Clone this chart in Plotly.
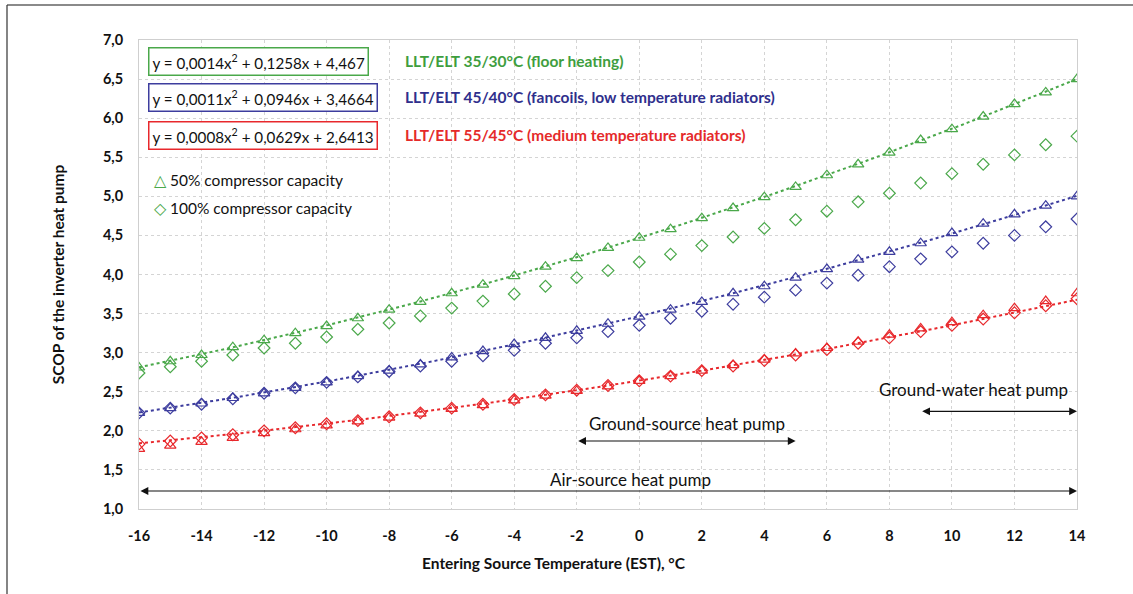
import numpy as np
import plotly.graph_objects as go

# ---------------- data ----------------
est = list(range(-16, 15))

green_50 = [2.81, 2.89, 2.97, 3.07, 3.16, 3.25, 3.34, 3.44, 3.55, 3.65, 3.76, 3.87, 3.98, 4.10, 4.21, 4.34,
            4.47, 4.58, 4.72, 4.85, 4.99, 5.12, 5.27, 5.41, 5.56, 5.72, 5.86, 6.02, 6.18, 6.33, 6.50]
green_100 = [2.74, 2.82, 2.89, 2.97, 3.06, 3.12, 3.20, 3.30, 3.38, 3.47, 3.57, 3.66, 3.75, 3.85, 3.96, 4.05,
             4.16, 4.26, 4.37, 4.48, 4.59, 4.70, 4.81, 4.93, 5.04, 5.17, 5.29, 5.41, 5.53, 5.66, 5.77]
blue_50 = [2.23, 2.29, 2.35, 2.42, 2.48, 2.55, 2.62, 2.70, 2.77, 2.85, 2.94, 3.02, 3.11, 3.19, 3.28, 3.37,
           3.46, 3.55, 3.65, 3.76, 3.85, 3.96, 4.07, 4.19, 4.29, 4.40, 4.53, 4.65, 4.77, 4.88, 5.00]
blue_100 = [2.23, 2.29, 2.34, 2.41, 2.48, 2.55, 2.62, 2.69, 2.76, 2.83, 2.89, 2.96, 3.03, 3.12, 3.19, 3.27,
            3.35, 3.44, 3.53, 3.62, 3.71, 3.80, 3.89, 3.99, 4.10, 4.20, 4.29, 4.40, 4.50, 4.61, 4.71]
red_50 = [1.77, 1.81, 1.86, 1.91, 1.97, 2.02, 2.07, 2.12, 2.17, 2.22, 2.28, 2.33, 2.39, 2.45, 2.51, 2.57,
          2.64, 2.70, 2.77, 2.84, 2.91, 2.99, 3.06, 3.14, 3.23, 3.31, 3.39, 3.48, 3.57, 3.66, 3.76]
red_100 = [1.83, 1.87, 1.91, 1.95, 2.00, 2.04, 2.09, 2.13, 2.18, 2.23, 2.29, 2.34, 2.40, 2.46, 2.52, 2.58,
           2.64, 2.70, 2.77, 2.83, 2.90, 2.97, 3.04, 3.12, 3.19, 3.27, 3.35, 3.43, 3.51, 3.60, 3.69]

# trendline equations as printed on the chart (a, b, c of a*x^2 + b*x + c)
green_coef = ["0,0014", "0,1258", "4,467"]
blue_coef = ["0,0011", "0,0946", "3,4664"]
red_coef = ["0,0008", "0,0629", "2,6413"]

series_labels = ["LLT/ELT 35/30°C (floor heating)",
                 "LLT/ELT 45/40°C (fancoils, low temperature radiators)",
                 "LLT/ELT 55/45°C (medium temperature radiators)"]

ranges = [("Ground-water heat pump", 9, 14), ("Ground-source heat pump", -2, 5), ("Air-source heat pump", -16, 14)]

x_ticks = list(range(-16, 15, 2))
x_tick_labels = [str(v) for v in x_ticks]

# ---------------- styling ----------------
GREEN = "#4aa84a"
BLUE = "#3d3d9e"
RED = "#e8282c"
GREEN_T = "#3e9e3e"
BLUE_T = "#2f2f8c"
RED_T = "#e52a2a"
FONT = "Lato"

fig = go.Figure()

xs = np.linspace(-16, 14, 121)
groups = [
    (green_50, green_100, green_coef, GREEN),
    (blue_50, blue_100, blue_coef, BLUE),
    (red_50, red_100, red_coef, RED),
]
for s50, s100, coef, col in groups:
    a, b, c = [float(v.replace(",", ".")) for v in coef]
    fig.add_trace(go.Scatter(x=xs, y=a * xs ** 2 + b * xs + c, mode="lines",
                             line=dict(color=col, width=2, dash="dot"), hoverinfo="skip",
                             showlegend=False))
    fig.add_trace(go.Scatter(x=est, y=s100, mode="markers",
                             marker=dict(symbol="diamond-open", size=9, color=col, line=dict(width=1.2)),
                             showlegend=False))
    fig.add_trace(go.Scatter(x=est, y=s50, mode="markers",
                             marker=dict(symbol="triangle-up-open", size=10, color=col, line=dict(width=1.2)),
                             showlegend=False))

annotations = []
# equation boxes
eq_y = [6.73, 6.265, 5.78]
for coef, col, txtcol, yy, lab in zip([green_coef, blue_coef, red_coef], [GREEN, BLUE, RED],
                                      [GREEN_T, BLUE_T, RED_T], eq_y, series_labels):
    annotations.append(dict(
        x=-15.72, y=yy, xref="x", yref="y", xanchor="left", yanchor="middle", showarrow=False,
        text=f"y = {coef[0]}x<sup>2</sup> + {coef[1]}x + {coef[2]}",
        font=dict(family=FONT, size=15.2, color="#111"),
        bordercolor=col, borderwidth=1.5, borderpad=3, bgcolor="white"))
    annotations.append(dict(
        x=-7.55, y=yy, xref="x", yref="y", xanchor="left", yanchor="middle", showarrow=False,
        text=f"<b>{lab}</b>", font=dict(family=FONT, size=15.5, color=txtcol)))

annotations.append(dict(x=-15.6, y=5.21, xref="x", yref="y", xanchor="left", yanchor="middle",
                        showarrow=False,
                        text=f"<span style='color:{GREEN}'>△</span> 50% compressor capacity",
                        font=dict(family=FONT, size=15.5, color="#111")))
annotations.append(dict(x=-15.6, y=4.85, xref="x", yref="y", xanchor="left", yanchor="middle",
                        showarrow=False,
                        text=f"<span style='color:{GREEN}'>◇</span> 100% compressor capacity",
                        font=dict(family=FONT, size=15.5, color="#111")))

# heat pump ranges (double-headed arrows + labels)
arrow_y = [2.25, 1.87, 1.23]
label_y = [2.53, 2.10, 1.38]
label_x = [10.7, 1.52, -0.27]
for (lab, x0, x1), ay, ly, lx in zip(ranges, arrow_y, label_y, label_x):
    annotations.append(dict(x=x1, y=ay, ax=x0, ay=ay, xref="x", yref="y", axref="x", ayref="y",
                            text="", showarrow=True, arrowhead=2, arrowsize=1.3, arrowwidth=1.2,
                            arrowside="end+start", arrowcolor="#111"))
    annotations.append(dict(x=lx, y=ly, xref="x", yref="y", xanchor="center", yanchor="middle",
                            showarrow=False, text=lab, font=dict(family=FONT, size=17, color="#111")))

# x-axis title (left of centre as in the reference)
annotations.append(dict(x=(554 - 139) / 938, y=-(563 - 509) / 469, xref="paper", yref="paper",
                        xanchor="center", yanchor="middle", showarrow=False,
                        text="<b>Entering Source Temperature (EST), °C</b>",
                        font=dict(family=FONT, size=15.5, color="#111")))

shapes = [
    dict(type="line", xref="paper", yref="paper", x0=(7 - 139) / 938, x1=(1133 - 139) / 938,
         y0=1 + (40 - 5) / 469, y1=1 + (40 - 5) / 469, line=dict(color="#8a8a8a", width=2)),
    dict(type="line", xref="paper", yref="paper", x0=(7 - 139) / 938, x1=(7 - 139) / 938,
         y0=1 + (40 - 5) / 469, y1=-(594 - 509) / 469, line=dict(color="#333", width=1.2)),
]

fig.update_layout(
    width=1133, height=594,
    margin=dict(l=139, r=56, t=40, b=85),
    paper_bgcolor="white", plot_bgcolor="white",
    separators=", ",
    annotations=annotations, shapes=shapes,
    font=dict(family=FONT, color="#111"),
)
fig.update_xaxes(range=[-16, 14], tickvals=x_ticks, ticktext=x_tick_labels, ticks="", showgrid=True,
                 gridcolor="#d4d4d4", griddash="dot", gridwidth=1,
                 showline=True, mirror=True, linecolor="#cfcfcf", linewidth=1,
                 zeroline=False, tickfont=dict(family=FONT, size=14.5, color="#111", weight="bold"),
                 ticklabelstandoff=14)
fig.update_yaxes(range=[1, 7], dtick=0.5, tick0=1, tickformat=".1f", ticks="", showgrid=True,
                 gridcolor="#d4d4d4", griddash="dot", gridwidth=1,
                 showline=True, mirror=True, linecolor="#cfcfcf", linewidth=1,
                 zeroline=False, tickfont=dict(family=FONT, size=14.5, color="#111", weight="bold"),
                 ticklabelstandoff=12,
                 title=dict(text="<b>SCOP of the inverter heat pump</b>", standoff=34,
                            font=dict(family=FONT, size=15.5, color="#111")))

fig.write_html("out.html")
